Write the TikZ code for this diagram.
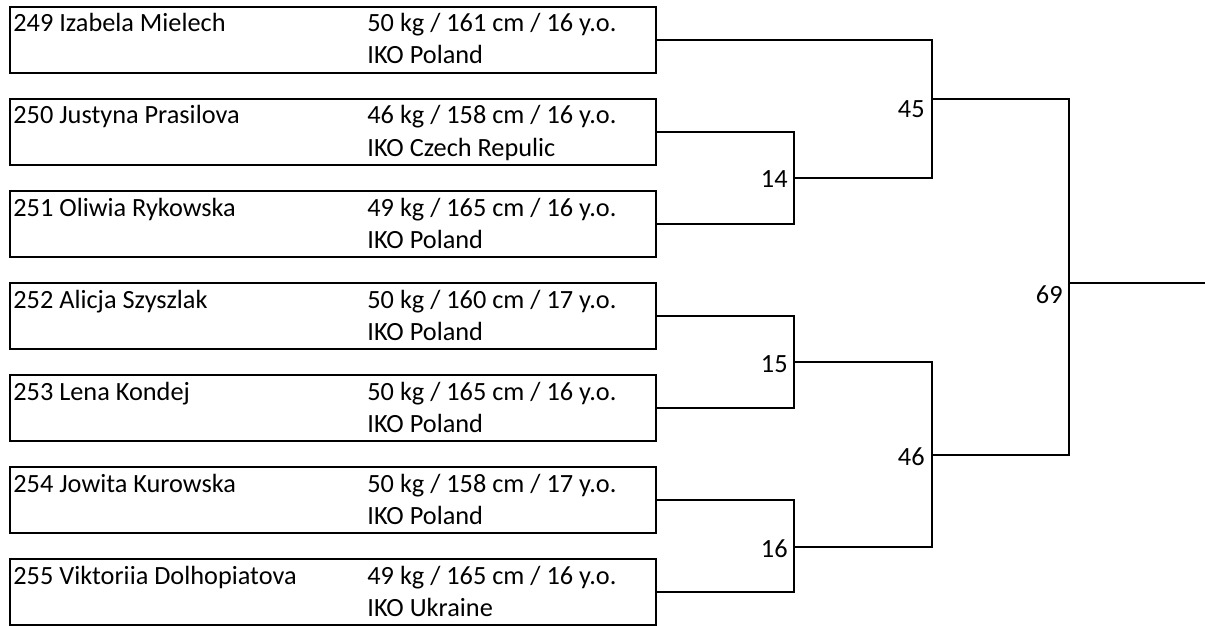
\documentclass[tikz,border=0pt]{standalone}
\usepackage{fontspec}
\setmainfont{Carlito}
\usetikzlibrary{positioning}

\begin{document}
\begin{tikzpicture}[
 x=0.5pt,y=-0.5pt,
 node distance=13pt,
 entry/.style={draw,line width=1pt,minimum width=323pt,minimum height=33pt,inner sep=0pt,outer sep=0pt},
 txt/.style={anchor=base west,inner sep=0pt,font=\fontsize{13.15}{16}\selectfont},
 num/.style={anchor=base east,inner sep=0pt,font=\fontsize{13.15}{16}\selectfont},
 wire/.style={line width=1pt}]
\useasboundingbox (0,0) rectangle (1205,626);
% competitor boxes
\node[entry,anchor=north west] (p249) at (10,7) {};
\node[entry,below=of p249] (p250) {};
\node[entry,below=of p250] (p251) {};
\node[entry,below=of p251] (p252) {};
\node[entry,below=of p252] (p253) {};
\node[entry,below=of p253] (p254) {};
\node[entry,below=of p254] (p255) {};
% names, data and club
\node[txt] (n249) at ([shift={(3,25)}]p249.north west) {249 Izabela Mielech};
\node[txt] (s249) at ([shift={(357,25)}]p249.north west) {50 kg / 161 cm / 16 y.o.};
\node[txt] (c249) at ([shift={(357,57)}]p249.north west) {IKO Poland};
\node[txt] (n250) at ([shift={(3,25)}]p250.north west) {250 Justyna Prasilova};
\node[txt] (s250) at ([shift={(357,25)}]p250.north west) {46 kg / 158 cm / 16 y.o.};
\node[txt] (c250) at ([shift={(357,57)}]p250.north west) {IKO Czech Repulic};
\node[txt] (n251) at ([shift={(3,25)}]p251.north west) {251 Oliwia Rykowska};
\node[txt] (s251) at ([shift={(357,25)}]p251.north west) {49 kg / 165 cm / 16 y.o.};
\node[txt] (c251) at ([shift={(357,57)}]p251.north west) {IKO Poland};
\node[txt] (n252) at ([shift={(3,25)}]p252.north west) {252 Alicja Szyszlak};
\node[txt] (s252) at ([shift={(357,25)}]p252.north west) {50 kg / 160 cm / 17 y.o.};
\node[txt] (c252) at ([shift={(357,57)}]p252.north west) {IKO Poland};
\node[txt] (n253) at ([shift={(3,25)}]p253.north west) {253 Lena Kondej};
\node[txt] (s253) at ([shift={(357,25)}]p253.north west) {50 kg / 165 cm / 16 y.o.};
\node[txt] (c253) at ([shift={(357,57)}]p253.north west) {IKO Poland};
\node[txt] (n254) at ([shift={(3,25)}]p254.north west) {254 Jowita Kurowska};
\node[txt] (s254) at ([shift={(357,25)}]p254.north west) {50 kg / 158 cm / 17 y.o.};
\node[txt] (c254) at ([shift={(357,57)}]p254.north west) {IKO Poland};
\node[txt] (n255) at ([shift={(3,25)}]p255.north west) {255 Viktoriia Dolhopiatova};
\node[txt] (s255) at ([shift={(357,25)}]p255.north west) {49 kg / 165 cm / 16 y.o.};
\node[txt] (c255) at ([shift={(357,57)}]p255.north west) {IKO Ukraine};
% bracket joints
\coordinate (j14) at (794,178);
\coordinate (j45) at (932,99);
\coordinate (j15) at (794,362);
\coordinate (j16) at (794,547);
\coordinate (j46) at (932,455);
\coordinate (j69) at (1069,283);
\coordinate (final) at (1205,283);
\draw[wire] (p250.east) -| (j14) |- (p251.east);
\draw[wire] (p249.east) -| (j45) |- (j14);
\draw[wire] (p252.east) -| (j15) |- (p253.east);
\draw[wire] (p254.east) -| (j16) |- (p255.east);
\draw[wire] (j15) -| (j46) |- (j16);
\draw[wire] (j45) -| (j69) |- (j46);
\draw[wire] (j69) -- (final);
% fight numbers
\node[num] (f14) at (788,187) {14};
\node[num] (f45) at (925,118) {45};
\node[num] (f15) at (788,372) {15};
\node[num] (f16) at (788,557) {16};
\node[num] (f46) at (925,465) {46};
\node[num] (f69) at (1063,303) {69};
\end{tikzpicture}
\end{document}
